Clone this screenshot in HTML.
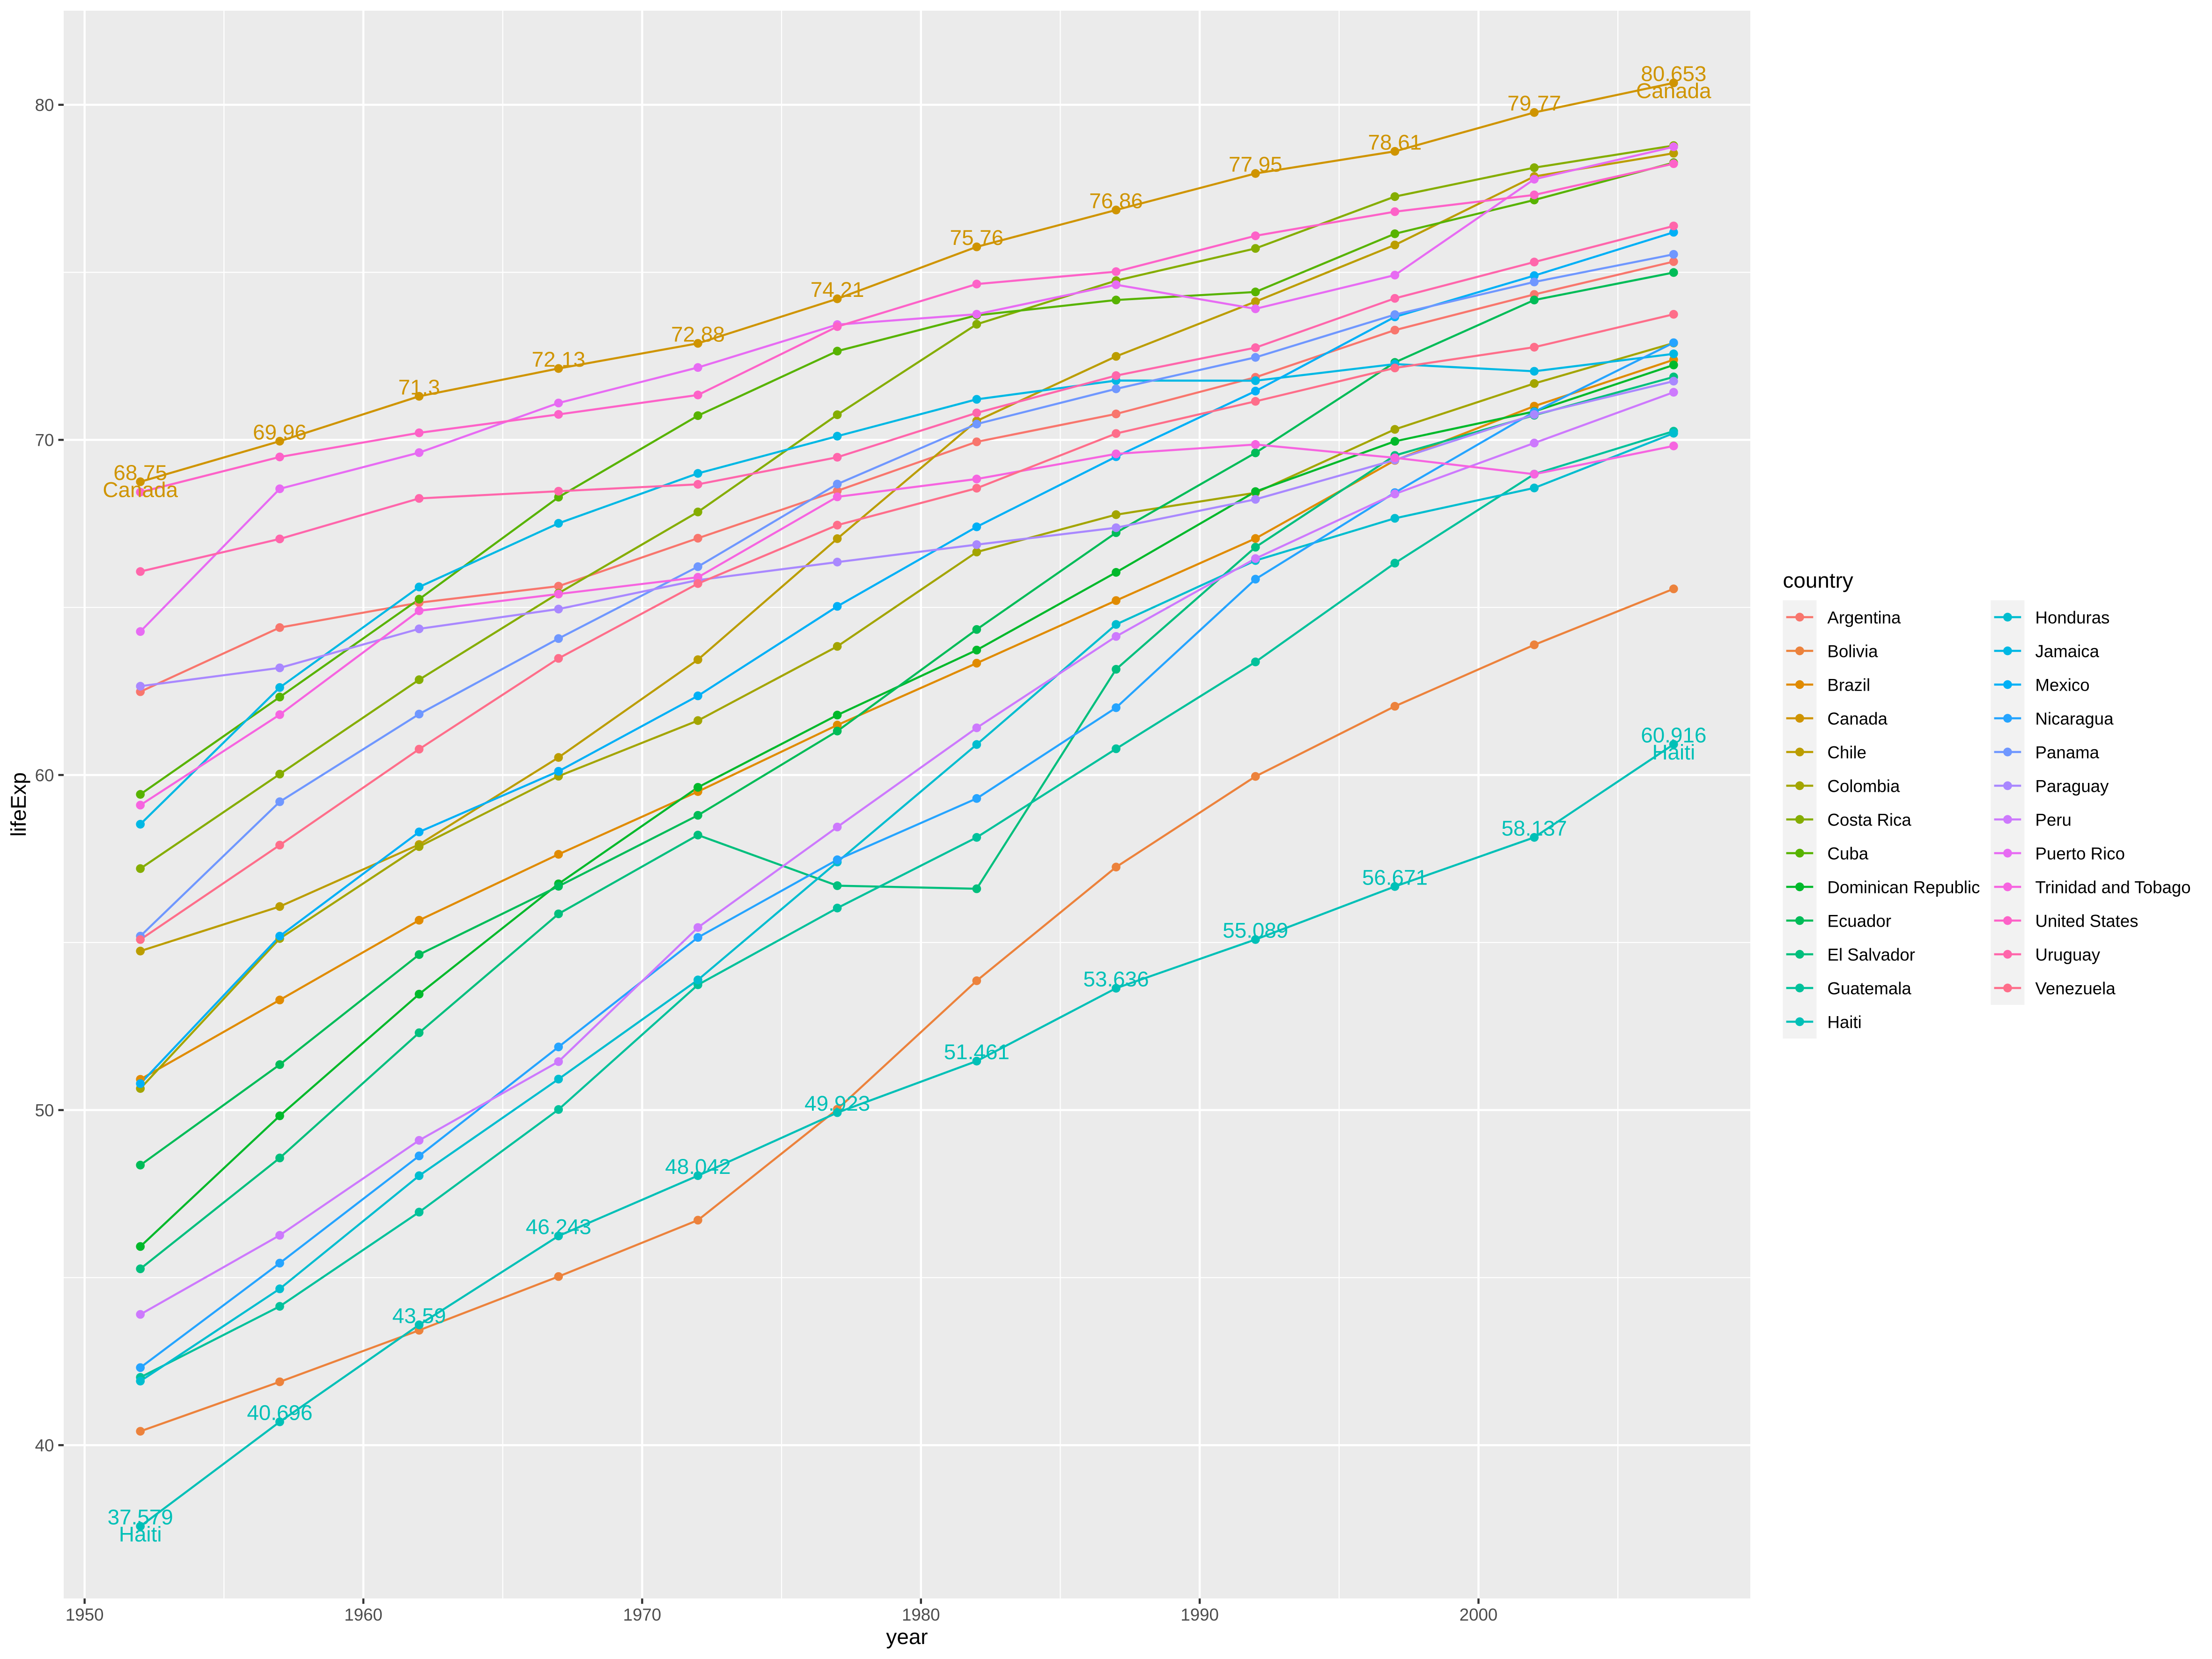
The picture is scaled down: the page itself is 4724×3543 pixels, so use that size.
<!DOCTYPE html>
<html><head><meta charset="utf-8"><style>
html,body{margin:0;padding:0;background:#fff;}
svg{display:block;}
text{font-family:"Liberation Sans",Arial,sans-serif;}
.ln polyline{fill:none;stroke-width:4.44;stroke-linejoin:round;vector-effect:non-scaling-stroke;}
</style></head><body>
<svg xmlns="http://www.w3.org/2000/svg" xmlns:xlink="http://www.w3.org/1999/xlink" width="4724" height="3543" viewBox="0 0 4724 3543">
<defs><ellipse id="p" cx="0" cy="0" rx="0.15705" ry="0.13065"/></defs>
<rect x="0" y="0" width="4724" height="3543" fill="#fff"/>
<rect x="136" y="22.9" width="3602" height="3390.8" fill="#EBEBEB"/>
<g stroke="#fff" stroke-width="2.22">
<line x1="478.3" y1="22.9" x2="478.3" y2="3413.7"/><line x1="1073.7" y1="22.9" x2="1073.7" y2="3413.7"/><line x1="1669.1" y1="22.9" x2="1669.1" y2="3413.7"/><line x1="2264.4" y1="22.9" x2="2264.4" y2="3413.7"/><line x1="2859.8" y1="22.9" x2="2859.8" y2="3413.7"/><line x1="3455.2" y1="22.9" x2="3455.2" y2="3413.7"/>
<line x1="136" y1="581.6" x2="3738" y2="581.6"/><line x1="136" y1="1297.2" x2="3738" y2="1297.2"/><line x1="136" y1="2012.9" x2="3738" y2="2012.9"/><line x1="136" y1="2728.5" x2="3738" y2="2728.5"/>
</g>
<g stroke="#fff" stroke-width="4.44">
<line x1="180.7" y1="22.9" x2="180.7" y2="3413.7"/><line x1="776" y1="22.9" x2="776" y2="3413.7"/><line x1="1371.4" y1="22.9" x2="1371.4" y2="3413.7"/><line x1="1966.8" y1="22.9" x2="1966.8" y2="3413.7"/><line x1="2562.1" y1="22.9" x2="2562.1" y2="3413.7"/><line x1="3157.5" y1="22.9" x2="3157.5" y2="3413.7"/>
<line x1="136" y1="223.8" x2="3738" y2="223.8"/><line x1="136" y1="939.4" x2="3738" y2="939.4"/><line x1="136" y1="1655.1" x2="3738" y2="1655.1"/><line x1="136" y1="2370.7" x2="3738" y2="2370.7"/><line x1="136" y1="3086.3" x2="3738" y2="3086.3"/>
</g>
<g transform="translate(136 22.9) scale(59.537 -71.563) translate(-1949.25 -82.807)">
<g class="ln">
<polyline stroke="#F8766D" points="1952,62.485 1957,64.399 1962,65.142 1967,65.634 1972,67.065 1977,68.481 1982,69.942 1987,70.774 1992,71.868 1997,73.275 2002,74.34 2007,75.32"/>
<polyline stroke="#EC823C" points="1952,40.414 1957,41.89 1962,43.428 1967,45.032 1972,46.714 1977,50.023 1982,53.859 1987,57.251 1992,59.957 1997,62.05 2002,63.883 2007,65.554"/>
<polyline stroke="#E08B00" points="1952,50.917 1957,53.285 1962,55.665 1967,57.632 1972,59.504 1977,61.489 1982,63.336 1987,65.205 1992,67.057 1997,69.388 2002,71.006 2007,72.39"/>
<polyline stroke="#CF9400" points="1952,68.75 1957,69.96 1962,71.3 1967,72.13 1972,72.88 1977,74.21 1982,75.76 1987,76.86 1992,77.95 1997,78.61 2002,79.77 2007,80.653"/>
<polyline stroke="#BB9D00" points="1952,54.745 1957,56.074 1962,57.924 1967,60.523 1972,63.441 1977,67.052 1982,70.565 1987,72.492 1992,74.126 1997,75.816 2002,77.86 2007,78.553"/>
<polyline stroke="#A3A500" points="1952,50.643 1957,55.118 1962,57.863 1967,59.963 1972,61.623 1977,63.837 1982,66.653 1987,67.768 1992,68.421 1997,70.313 2002,71.682 2007,72.889"/>
<polyline stroke="#85AD00" points="1952,57.206 1957,60.026 1962,62.842 1967,65.424 1972,67.849 1977,70.75 1982,73.45 1987,74.752 1992,75.713 1997,77.26 2002,78.123 2007,78.782"/>
<polyline stroke="#57B300" points="1952,59.421 1957,62.325 1962,65.246 1967,68.29 1972,70.723 1977,72.649 1982,73.717 1987,74.174 1992,74.414 1997,76.151 2002,77.158 2007,78.273"/>
<polyline stroke="#00B92B" points="1952,45.928 1957,49.828 1962,53.459 1967,56.751 1972,59.631 1977,61.788 1982,63.727 1987,66.046 1992,68.457 1997,69.957 2002,70.847 2007,72.235"/>
<polyline stroke="#00BC58" points="1952,48.357 1957,51.356 1962,54.64 1967,56.678 1972,58.796 1977,61.31 1982,64.342 1987,67.231 1992,69.613 1997,72.312 2002,74.173 2007,74.994"/>
<polyline stroke="#00BF7D" points="1952,45.262 1957,48.57 1962,52.307 1967,55.855 1972,58.207 1977,56.696 1982,56.604 1987,63.154 1992,66.798 1997,69.535 2002,70.734 2007,71.878"/>
<polyline stroke="#00C19B" points="1952,42.023 1957,44.142 1962,46.954 1967,50.016 1972,53.738 1977,56.029 1982,58.137 1987,60.782 1992,63.373 1997,66.322 2002,68.978 2007,70.259"/>
<polyline stroke="#00C0B7" points="1952,37.579 1957,40.696 1962,43.59 1967,46.243 1972,48.042 1977,49.923 1982,51.461 1987,53.636 1992,55.089 1997,56.671 2002,58.137 2007,60.916"/>
<polyline stroke="#00BDCF" points="1952,41.912 1957,44.665 1962,48.041 1967,50.924 1972,53.884 1977,57.402 1982,60.909 1987,64.492 1992,66.399 1997,67.659 2002,68.565 2007,70.198"/>
<polyline stroke="#00B8E4" points="1952,58.53 1957,62.61 1962,65.61 1967,67.51 1972,69 1977,70.11 1982,71.21 1987,71.77 1992,71.766 1997,72.262 2002,72.047 2007,72.567"/>
<polyline stroke="#00B0F6" points="1952,50.789 1957,55.19 1962,58.299 1967,60.11 1972,62.361 1977,65.032 1982,67.405 1987,69.498 1992,71.455 1997,73.67 2002,74.902 2007,76.195"/>
<polyline stroke="#25A4FF" points="1952,42.314 1957,45.432 1962,48.632 1967,51.884 1972,55.151 1977,57.47 1982,59.298 1987,62.008 1992,65.843 1997,68.426 2002,70.836 2007,72.899"/>
<polyline stroke="#6F97FF" points="1952,55.191 1957,59.201 1962,61.817 1967,64.071 1972,66.216 1977,68.681 1982,70.472 1987,71.523 1992,72.462 1997,73.738 2002,74.712 2007,75.537"/>
<polyline stroke="#A988FF" points="1952,62.649 1957,63.196 1962,64.361 1967,64.951 1972,65.815 1977,66.353 1982,66.874 1987,67.378 1992,68.225 1997,69.4 2002,70.755 2007,71.752"/>
<polyline stroke="#CD79FD" points="1952,43.902 1957,46.263 1962,49.096 1967,51.445 1972,55.448 1977,58.447 1982,61.406 1987,64.134 1992,66.458 1997,68.386 2002,69.906 2007,71.421"/>
<polyline stroke="#E76BF3" points="1952,64.28 1957,68.54 1962,69.62 1967,71.1 1972,72.16 1977,73.44 1982,73.75 1987,74.63 1992,73.911 1997,74.917 2002,77.778 2007,78.746"/>
<polyline stroke="#F664E0" points="1952,59.1 1957,61.8 1962,64.9 1967,65.4 1972,65.9 1977,68.3 1982,68.832 1987,69.582 1992,69.862 1997,69.465 2002,68.976 2007,69.819"/>
<polyline stroke="#FD62C8" points="1952,68.44 1957,69.49 1962,70.21 1967,70.76 1972,71.34 1977,73.38 1982,74.65 1987,75.02 1992,76.09 1997,76.81 2002,77.31 2007,78.242"/>
<polyline stroke="#FF66AB" points="1952,66.071 1957,67.044 1962,68.253 1967,68.468 1972,68.673 1977,69.481 1982,70.805 1987,71.918 1992,72.752 1997,74.223 2002,75.307 2007,76.384"/>
<polyline stroke="#FE6E8A" points="1952,55.088 1957,57.907 1962,60.77 1967,63.479 1972,65.712 1977,67.456 1982,68.557 1987,70.19 1992,71.15 1997,72.146 2002,72.766 2007,73.747"/>
</g>
<g fill="#F8766D"><use xlink:href="#p" x="1952" y="62.485"/><use xlink:href="#p" x="1957" y="64.399"/><use xlink:href="#p" x="1962" y="65.142"/><use xlink:href="#p" x="1967" y="65.634"/><use xlink:href="#p" x="1972" y="67.065"/><use xlink:href="#p" x="1977" y="68.481"/><use xlink:href="#p" x="1982" y="69.942"/><use xlink:href="#p" x="1987" y="70.774"/><use xlink:href="#p" x="1992" y="71.868"/><use xlink:href="#p" x="1997" y="73.275"/><use xlink:href="#p" x="2002" y="74.34"/><use xlink:href="#p" x="2007" y="75.32"/></g>
<g fill="#EC823C"><use xlink:href="#p" x="1952" y="40.414"/><use xlink:href="#p" x="1957" y="41.89"/><use xlink:href="#p" x="1962" y="43.428"/><use xlink:href="#p" x="1967" y="45.032"/><use xlink:href="#p" x="1972" y="46.714"/><use xlink:href="#p" x="1977" y="50.023"/><use xlink:href="#p" x="1982" y="53.859"/><use xlink:href="#p" x="1987" y="57.251"/><use xlink:href="#p" x="1992" y="59.957"/><use xlink:href="#p" x="1997" y="62.05"/><use xlink:href="#p" x="2002" y="63.883"/><use xlink:href="#p" x="2007" y="65.554"/></g>
<g fill="#E08B00"><use xlink:href="#p" x="1952" y="50.917"/><use xlink:href="#p" x="1957" y="53.285"/><use xlink:href="#p" x="1962" y="55.665"/><use xlink:href="#p" x="1967" y="57.632"/><use xlink:href="#p" x="1972" y="59.504"/><use xlink:href="#p" x="1977" y="61.489"/><use xlink:href="#p" x="1982" y="63.336"/><use xlink:href="#p" x="1987" y="65.205"/><use xlink:href="#p" x="1992" y="67.057"/><use xlink:href="#p" x="1997" y="69.388"/><use xlink:href="#p" x="2002" y="71.006"/><use xlink:href="#p" x="2007" y="72.39"/></g>
<g fill="#CF9400"><use xlink:href="#p" x="1952" y="68.75"/><use xlink:href="#p" x="1957" y="69.96"/><use xlink:href="#p" x="1962" y="71.3"/><use xlink:href="#p" x="1967" y="72.13"/><use xlink:href="#p" x="1972" y="72.88"/><use xlink:href="#p" x="1977" y="74.21"/><use xlink:href="#p" x="1982" y="75.76"/><use xlink:href="#p" x="1987" y="76.86"/><use xlink:href="#p" x="1992" y="77.95"/><use xlink:href="#p" x="1997" y="78.61"/><use xlink:href="#p" x="2002" y="79.77"/><use xlink:href="#p" x="2007" y="80.653"/></g>
<g fill="#BB9D00"><use xlink:href="#p" x="1952" y="54.745"/><use xlink:href="#p" x="1957" y="56.074"/><use xlink:href="#p" x="1962" y="57.924"/><use xlink:href="#p" x="1967" y="60.523"/><use xlink:href="#p" x="1972" y="63.441"/><use xlink:href="#p" x="1977" y="67.052"/><use xlink:href="#p" x="1982" y="70.565"/><use xlink:href="#p" x="1987" y="72.492"/><use xlink:href="#p" x="1992" y="74.126"/><use xlink:href="#p" x="1997" y="75.816"/><use xlink:href="#p" x="2002" y="77.86"/><use xlink:href="#p" x="2007" y="78.553"/></g>
<g fill="#A3A500"><use xlink:href="#p" x="1952" y="50.643"/><use xlink:href="#p" x="1957" y="55.118"/><use xlink:href="#p" x="1962" y="57.863"/><use xlink:href="#p" x="1967" y="59.963"/><use xlink:href="#p" x="1972" y="61.623"/><use xlink:href="#p" x="1977" y="63.837"/><use xlink:href="#p" x="1982" y="66.653"/><use xlink:href="#p" x="1987" y="67.768"/><use xlink:href="#p" x="1992" y="68.421"/><use xlink:href="#p" x="1997" y="70.313"/><use xlink:href="#p" x="2002" y="71.682"/><use xlink:href="#p" x="2007" y="72.889"/></g>
<g fill="#85AD00"><use xlink:href="#p" x="1952" y="57.206"/><use xlink:href="#p" x="1957" y="60.026"/><use xlink:href="#p" x="1962" y="62.842"/><use xlink:href="#p" x="1967" y="65.424"/><use xlink:href="#p" x="1972" y="67.849"/><use xlink:href="#p" x="1977" y="70.75"/><use xlink:href="#p" x="1982" y="73.45"/><use xlink:href="#p" x="1987" y="74.752"/><use xlink:href="#p" x="1992" y="75.713"/><use xlink:href="#p" x="1997" y="77.26"/><use xlink:href="#p" x="2002" y="78.123"/><use xlink:href="#p" x="2007" y="78.782"/></g>
<g fill="#57B300"><use xlink:href="#p" x="1952" y="59.421"/><use xlink:href="#p" x="1957" y="62.325"/><use xlink:href="#p" x="1962" y="65.246"/><use xlink:href="#p" x="1967" y="68.29"/><use xlink:href="#p" x="1972" y="70.723"/><use xlink:href="#p" x="1977" y="72.649"/><use xlink:href="#p" x="1982" y="73.717"/><use xlink:href="#p" x="1987" y="74.174"/><use xlink:href="#p" x="1992" y="74.414"/><use xlink:href="#p" x="1997" y="76.151"/><use xlink:href="#p" x="2002" y="77.158"/><use xlink:href="#p" x="2007" y="78.273"/></g>
<g fill="#00B92B"><use xlink:href="#p" x="1952" y="45.928"/><use xlink:href="#p" x="1957" y="49.828"/><use xlink:href="#p" x="1962" y="53.459"/><use xlink:href="#p" x="1967" y="56.751"/><use xlink:href="#p" x="1972" y="59.631"/><use xlink:href="#p" x="1977" y="61.788"/><use xlink:href="#p" x="1982" y="63.727"/><use xlink:href="#p" x="1987" y="66.046"/><use xlink:href="#p" x="1992" y="68.457"/><use xlink:href="#p" x="1997" y="69.957"/><use xlink:href="#p" x="2002" y="70.847"/><use xlink:href="#p" x="2007" y="72.235"/></g>
<g fill="#00BC58"><use xlink:href="#p" x="1952" y="48.357"/><use xlink:href="#p" x="1957" y="51.356"/><use xlink:href="#p" x="1962" y="54.64"/><use xlink:href="#p" x="1967" y="56.678"/><use xlink:href="#p" x="1972" y="58.796"/><use xlink:href="#p" x="1977" y="61.31"/><use xlink:href="#p" x="1982" y="64.342"/><use xlink:href="#p" x="1987" y="67.231"/><use xlink:href="#p" x="1992" y="69.613"/><use xlink:href="#p" x="1997" y="72.312"/><use xlink:href="#p" x="2002" y="74.173"/><use xlink:href="#p" x="2007" y="74.994"/></g>
<g fill="#00BF7D"><use xlink:href="#p" x="1952" y="45.262"/><use xlink:href="#p" x="1957" y="48.57"/><use xlink:href="#p" x="1962" y="52.307"/><use xlink:href="#p" x="1967" y="55.855"/><use xlink:href="#p" x="1972" y="58.207"/><use xlink:href="#p" x="1977" y="56.696"/><use xlink:href="#p" x="1982" y="56.604"/><use xlink:href="#p" x="1987" y="63.154"/><use xlink:href="#p" x="1992" y="66.798"/><use xlink:href="#p" x="1997" y="69.535"/><use xlink:href="#p" x="2002" y="70.734"/><use xlink:href="#p" x="2007" y="71.878"/></g>
<g fill="#00C19B"><use xlink:href="#p" x="1952" y="42.023"/><use xlink:href="#p" x="1957" y="44.142"/><use xlink:href="#p" x="1962" y="46.954"/><use xlink:href="#p" x="1967" y="50.016"/><use xlink:href="#p" x="1972" y="53.738"/><use xlink:href="#p" x="1977" y="56.029"/><use xlink:href="#p" x="1982" y="58.137"/><use xlink:href="#p" x="1987" y="60.782"/><use xlink:href="#p" x="1992" y="63.373"/><use xlink:href="#p" x="1997" y="66.322"/><use xlink:href="#p" x="2002" y="68.978"/><use xlink:href="#p" x="2007" y="70.259"/></g>
<g fill="#00C0B7"><use xlink:href="#p" x="1952" y="37.579"/><use xlink:href="#p" x="1957" y="40.696"/><use xlink:href="#p" x="1962" y="43.59"/><use xlink:href="#p" x="1967" y="46.243"/><use xlink:href="#p" x="1972" y="48.042"/><use xlink:href="#p" x="1977" y="49.923"/><use xlink:href="#p" x="1982" y="51.461"/><use xlink:href="#p" x="1987" y="53.636"/><use xlink:href="#p" x="1992" y="55.089"/><use xlink:href="#p" x="1997" y="56.671"/><use xlink:href="#p" x="2002" y="58.137"/><use xlink:href="#p" x="2007" y="60.916"/></g>
<g fill="#00BDCF"><use xlink:href="#p" x="1952" y="41.912"/><use xlink:href="#p" x="1957" y="44.665"/><use xlink:href="#p" x="1962" y="48.041"/><use xlink:href="#p" x="1967" y="50.924"/><use xlink:href="#p" x="1972" y="53.884"/><use xlink:href="#p" x="1977" y="57.402"/><use xlink:href="#p" x="1982" y="60.909"/><use xlink:href="#p" x="1987" y="64.492"/><use xlink:href="#p" x="1992" y="66.399"/><use xlink:href="#p" x="1997" y="67.659"/><use xlink:href="#p" x="2002" y="68.565"/><use xlink:href="#p" x="2007" y="70.198"/></g>
<g fill="#00B8E4"><use xlink:href="#p" x="1952" y="58.53"/><use xlink:href="#p" x="1957" y="62.61"/><use xlink:href="#p" x="1962" y="65.61"/><use xlink:href="#p" x="1967" y="67.51"/><use xlink:href="#p" x="1972" y="69"/><use xlink:href="#p" x="1977" y="70.11"/><use xlink:href="#p" x="1982" y="71.21"/><use xlink:href="#p" x="1987" y="71.77"/><use xlink:href="#p" x="1992" y="71.766"/><use xlink:href="#p" x="1997" y="72.262"/><use xlink:href="#p" x="2002" y="72.047"/><use xlink:href="#p" x="2007" y="72.567"/></g>
<g fill="#00B0F6"><use xlink:href="#p" x="1952" y="50.789"/><use xlink:href="#p" x="1957" y="55.19"/><use xlink:href="#p" x="1962" y="58.299"/><use xlink:href="#p" x="1967" y="60.11"/><use xlink:href="#p" x="1972" y="62.361"/><use xlink:href="#p" x="1977" y="65.032"/><use xlink:href="#p" x="1982" y="67.405"/><use xlink:href="#p" x="1987" y="69.498"/><use xlink:href="#p" x="1992" y="71.455"/><use xlink:href="#p" x="1997" y="73.67"/><use xlink:href="#p" x="2002" y="74.902"/><use xlink:href="#p" x="2007" y="76.195"/></g>
<g fill="#25A4FF"><use xlink:href="#p" x="1952" y="42.314"/><use xlink:href="#p" x="1957" y="45.432"/><use xlink:href="#p" x="1962" y="48.632"/><use xlink:href="#p" x="1967" y="51.884"/><use xlink:href="#p" x="1972" y="55.151"/><use xlink:href="#p" x="1977" y="57.47"/><use xlink:href="#p" x="1982" y="59.298"/><use xlink:href="#p" x="1987" y="62.008"/><use xlink:href="#p" x="1992" y="65.843"/><use xlink:href="#p" x="1997" y="68.426"/><use xlink:href="#p" x="2002" y="70.836"/><use xlink:href="#p" x="2007" y="72.899"/></g>
<g fill="#6F97FF"><use xlink:href="#p" x="1952" y="55.191"/><use xlink:href="#p" x="1957" y="59.201"/><use xlink:href="#p" x="1962" y="61.817"/><use xlink:href="#p" x="1967" y="64.071"/><use xlink:href="#p" x="1972" y="66.216"/><use xlink:href="#p" x="1977" y="68.681"/><use xlink:href="#p" x="1982" y="70.472"/><use xlink:href="#p" x="1987" y="71.523"/><use xlink:href="#p" x="1992" y="72.462"/><use xlink:href="#p" x="1997" y="73.738"/><use xlink:href="#p" x="2002" y="74.712"/><use xlink:href="#p" x="2007" y="75.537"/></g>
<g fill="#A988FF"><use xlink:href="#p" x="1952" y="62.649"/><use xlink:href="#p" x="1957" y="63.196"/><use xlink:href="#p" x="1962" y="64.361"/><use xlink:href="#p" x="1967" y="64.951"/><use xlink:href="#p" x="1972" y="65.815"/><use xlink:href="#p" x="1977" y="66.353"/><use xlink:href="#p" x="1982" y="66.874"/><use xlink:href="#p" x="1987" y="67.378"/><use xlink:href="#p" x="1992" y="68.225"/><use xlink:href="#p" x="1997" y="69.4"/><use xlink:href="#p" x="2002" y="70.755"/><use xlink:href="#p" x="2007" y="71.752"/></g>
<g fill="#CD79FD"><use xlink:href="#p" x="1952" y="43.902"/><use xlink:href="#p" x="1957" y="46.263"/><use xlink:href="#p" x="1962" y="49.096"/><use xlink:href="#p" x="1967" y="51.445"/><use xlink:href="#p" x="1972" y="55.448"/><use xlink:href="#p" x="1977" y="58.447"/><use xlink:href="#p" x="1982" y="61.406"/><use xlink:href="#p" x="1987" y="64.134"/><use xlink:href="#p" x="1992" y="66.458"/><use xlink:href="#p" x="1997" y="68.386"/><use xlink:href="#p" x="2002" y="69.906"/><use xlink:href="#p" x="2007" y="71.421"/></g>
<g fill="#E76BF3"><use xlink:href="#p" x="1952" y="64.28"/><use xlink:href="#p" x="1957" y="68.54"/><use xlink:href="#p" x="1962" y="69.62"/><use xlink:href="#p" x="1967" y="71.1"/><use xlink:href="#p" x="1972" y="72.16"/><use xlink:href="#p" x="1977" y="73.44"/><use xlink:href="#p" x="1982" y="73.75"/><use xlink:href="#p" x="1987" y="74.63"/><use xlink:href="#p" x="1992" y="73.911"/><use xlink:href="#p" x="1997" y="74.917"/><use xlink:href="#p" x="2002" y="77.778"/><use xlink:href="#p" x="2007" y="78.746"/></g>
<g fill="#F664E0"><use xlink:href="#p" x="1952" y="59.1"/><use xlink:href="#p" x="1957" y="61.8"/><use xlink:href="#p" x="1962" y="64.9"/><use xlink:href="#p" x="1967" y="65.4"/><use xlink:href="#p" x="1972" y="65.9"/><use xlink:href="#p" x="1977" y="68.3"/><use xlink:href="#p" x="1982" y="68.832"/><use xlink:href="#p" x="1987" y="69.582"/><use xlink:href="#p" x="1992" y="69.862"/><use xlink:href="#p" x="1997" y="69.465"/><use xlink:href="#p" x="2002" y="68.976"/><use xlink:href="#p" x="2007" y="69.819"/></g>
<g fill="#FD62C8"><use xlink:href="#p" x="1952" y="68.44"/><use xlink:href="#p" x="1957" y="69.49"/><use xlink:href="#p" x="1962" y="70.21"/><use xlink:href="#p" x="1967" y="70.76"/><use xlink:href="#p" x="1972" y="71.34"/><use xlink:href="#p" x="1977" y="73.38"/><use xlink:href="#p" x="1982" y="74.65"/><use xlink:href="#p" x="1987" y="75.02"/><use xlink:href="#p" x="1992" y="76.09"/><use xlink:href="#p" x="1997" y="76.81"/><use xlink:href="#p" x="2002" y="77.31"/><use xlink:href="#p" x="2007" y="78.242"/></g>
<g fill="#FF66AB"><use xlink:href="#p" x="1952" y="66.071"/><use xlink:href="#p" x="1957" y="67.044"/><use xlink:href="#p" x="1962" y="68.253"/><use xlink:href="#p" x="1967" y="68.468"/><use xlink:href="#p" x="1972" y="68.673"/><use xlink:href="#p" x="1977" y="69.481"/><use xlink:href="#p" x="1982" y="70.805"/><use xlink:href="#p" x="1987" y="71.918"/><use xlink:href="#p" x="1992" y="72.752"/><use xlink:href="#p" x="1997" y="74.223"/><use xlink:href="#p" x="2002" y="75.307"/><use xlink:href="#p" x="2007" y="76.384"/></g>
<g fill="#FE6E8A"><use xlink:href="#p" x="1952" y="55.088"/><use xlink:href="#p" x="1957" y="57.907"/><use xlink:href="#p" x="1962" y="60.77"/><use xlink:href="#p" x="1967" y="63.479"/><use xlink:href="#p" x="1972" y="65.712"/><use xlink:href="#p" x="1977" y="67.456"/><use xlink:href="#p" x="1982" y="68.557"/><use xlink:href="#p" x="1987" y="70.19"/><use xlink:href="#p" x="1992" y="71.15"/><use xlink:href="#p" x="1997" y="72.146"/><use xlink:href="#p" x="2002" y="72.766"/><use xlink:href="#p" x="2007" y="73.747"/></g>
</g>
<g font-size="45.83" text-anchor="middle" fill="#CF9400">
<text x="299.7" y="1024.9">68.75</text><text x="597.4" y="938.3">69.96</text><text x="895.1" y="842.4">71.3</text><text x="1192.8" y="783">72.13</text><text x="1490.5" y="729.3">72.88</text><text x="1788.2" y="634.1">74.21</text><text x="2085.8" y="523.2">75.76</text><text x="2383.5" y="444.5">76.86</text><text x="2681.2" y="366.5">77.95</text><text x="2978.9" y="319.3">78.61</text><text x="3276.6" y="236.2">79.77</text><text x="3574.3" y="173.1">80.653</text>
<text x="299.7" y="1061.4">Canada</text><text x="3574.3" y="209.6">Canada</text>
</g>
<g font-size="45.83" text-anchor="middle" fill="#00C0B7">
<text x="299.7" y="3255.6">37.579</text><text x="597.4" y="3032.5">40.696</text><text x="895.1" y="2825.4">43.59</text><text x="1192.8" y="2635.5">46.243</text><text x="1490.5" y="2506.8">48.042</text><text x="1788.2" y="2372.2">49.923</text><text x="2085.8" y="2262.1">51.461</text><text x="2383.5" y="2106.5">53.636</text><text x="2681.2" y="2002.5">55.089</text><text x="2978.9" y="1889.3">56.671</text><text x="3276.6" y="1784.4">58.137</text><text x="3574.3" y="1585.5">60.916</text>
<text x="299.7" y="3292.1">Haiti</text><text x="3574.3" y="1622">Haiti</text>
</g>
<g stroke="#333333" stroke-width="4.44">
<line x1="180.7" y1="3413.7" x2="180.7" y2="3425.2"/><line x1="776" y1="3413.7" x2="776" y2="3425.2"/><line x1="1371.4" y1="3413.7" x2="1371.4" y2="3425.2"/><line x1="1966.8" y1="3413.7" x2="1966.8" y2="3425.2"/><line x1="2562.1" y1="3413.7" x2="2562.1" y2="3425.2"/><line x1="3157.5" y1="3413.7" x2="3157.5" y2="3425.2"/>
<line x1="124.5" y1="223.8" x2="136" y2="223.8"/><line x1="124.5" y1="939.4" x2="136" y2="939.4"/><line x1="124.5" y1="1655.1" x2="136" y2="1655.1"/><line x1="124.5" y1="2370.7" x2="136" y2="2370.7"/><line x1="124.5" y1="3086.3" x2="136" y2="3086.3"/>
</g>
<g font-size="36.67" fill="#4D4D4D" text-anchor="middle">
<text x="180.7" y="3461">1950</text><text x="776" y="3461">1960</text><text x="1371.4" y="3461">1970</text><text x="1966.8" y="3461">1980</text><text x="2562.1" y="3461">1990</text><text x="3157.5" y="3461">2000</text>
</g>
<g font-size="36.67" fill="#4D4D4D" text-anchor="end">
<text x="115.4" y="237.1">80</text><text x="115.4" y="952.7">70</text><text x="115.4" y="1668.4">60</text><text x="115.4" y="2384">50</text><text x="115.4" y="3099.6">40</text>
</g>
<text x="1937" y="3511" font-size="45.83" text-anchor="middle" fill="#000">year</text>
<text transform="translate(55 1718) rotate(-90)" x="0" y="0" font-size="45.83" text-anchor="middle" fill="#000">lifeExp</text>
<text x="3807.5" y="1255" font-size="45.83" fill="#000">country</text>
<rect x="3807.5" y="1282" width="72" height="936" fill="#F2F2F2"/>
<rect x="4251.5" y="1282" width="72" height="864" fill="#F2F2F2"/>
<g stroke-width="4.44">
<line x1="3814.7" x2="3872.3" y1="1318" y2="1318" stroke="#F8766D"/><circle cx="3843.5" cy="1318" r="9.35" fill="#F8766D"/>
<line x1="3814.7" x2="3872.3" y1="1390" y2="1390" stroke="#EC823C"/><circle cx="3843.5" cy="1390" r="9.35" fill="#EC823C"/>
<line x1="3814.7" x2="3872.3" y1="1462" y2="1462" stroke="#E08B00"/><circle cx="3843.5" cy="1462" r="9.35" fill="#E08B00"/>
<line x1="3814.7" x2="3872.3" y1="1534" y2="1534" stroke="#CF9400"/><circle cx="3843.5" cy="1534" r="9.35" fill="#CF9400"/>
<line x1="3814.7" x2="3872.3" y1="1606" y2="1606" stroke="#BB9D00"/><circle cx="3843.5" cy="1606" r="9.35" fill="#BB9D00"/>
<line x1="3814.7" x2="3872.3" y1="1678" y2="1678" stroke="#A3A500"/><circle cx="3843.5" cy="1678" r="9.35" fill="#A3A500"/>
<line x1="3814.7" x2="3872.3" y1="1750" y2="1750" stroke="#85AD00"/><circle cx="3843.5" cy="1750" r="9.35" fill="#85AD00"/>
<line x1="3814.7" x2="3872.3" y1="1822" y2="1822" stroke="#57B300"/><circle cx="3843.5" cy="1822" r="9.35" fill="#57B300"/>
<line x1="3814.7" x2="3872.3" y1="1894" y2="1894" stroke="#00B92B"/><circle cx="3843.5" cy="1894" r="9.35" fill="#00B92B"/>
<line x1="3814.7" x2="3872.3" y1="1966" y2="1966" stroke="#00BC58"/><circle cx="3843.5" cy="1966" r="9.35" fill="#00BC58"/>
<line x1="3814.7" x2="3872.3" y1="2038" y2="2038" stroke="#00BF7D"/><circle cx="3843.5" cy="2038" r="9.35" fill="#00BF7D"/>
<line x1="3814.7" x2="3872.3" y1="2110" y2="2110" stroke="#00C19B"/><circle cx="3843.5" cy="2110" r="9.35" fill="#00C19B"/>
<line x1="3814.7" x2="3872.3" y1="2182" y2="2182" stroke="#00C0B7"/><circle cx="3843.5" cy="2182" r="9.35" fill="#00C0B7"/>
<line x1="4258.7" x2="4316.3" y1="1318" y2="1318" stroke="#00BDCF"/><circle cx="4287.5" cy="1318" r="9.35" fill="#00BDCF"/>
<line x1="4258.7" x2="4316.3" y1="1390" y2="1390" stroke="#00B8E4"/><circle cx="4287.5" cy="1390" r="9.35" fill="#00B8E4"/>
<line x1="4258.7" x2="4316.3" y1="1462" y2="1462" stroke="#00B0F6"/><circle cx="4287.5" cy="1462" r="9.35" fill="#00B0F6"/>
<line x1="4258.7" x2="4316.3" y1="1534" y2="1534" stroke="#25A4FF"/><circle cx="4287.5" cy="1534" r="9.35" fill="#25A4FF"/>
<line x1="4258.7" x2="4316.3" y1="1606" y2="1606" stroke="#6F97FF"/><circle cx="4287.5" cy="1606" r="9.35" fill="#6F97FF"/>
<line x1="4258.7" x2="4316.3" y1="1678" y2="1678" stroke="#A988FF"/><circle cx="4287.5" cy="1678" r="9.35" fill="#A988FF"/>
<line x1="4258.7" x2="4316.3" y1="1750" y2="1750" stroke="#CD79FD"/><circle cx="4287.5" cy="1750" r="9.35" fill="#CD79FD"/>
<line x1="4258.7" x2="4316.3" y1="1822" y2="1822" stroke="#E76BF3"/><circle cx="4287.5" cy="1822" r="9.35" fill="#E76BF3"/>
<line x1="4258.7" x2="4316.3" y1="1894" y2="1894" stroke="#F664E0"/><circle cx="4287.5" cy="1894" r="9.35" fill="#F664E0"/>
<line x1="4258.7" x2="4316.3" y1="1966" y2="1966" stroke="#FD62C8"/><circle cx="4287.5" cy="1966" r="9.35" fill="#FD62C8"/>
<line x1="4258.7" x2="4316.3" y1="2038" y2="2038" stroke="#FF66AB"/><circle cx="4287.5" cy="2038" r="9.35" fill="#FF66AB"/>
<line x1="4258.7" x2="4316.3" y1="2110" y2="2110" stroke="#FE6E8A"/><circle cx="4287.5" cy="2110" r="9.35" fill="#FE6E8A"/>
</g>
<g font-size="36.67" fill="#000">
<text x="3902.5" y="1331.3">Argentina</text><text x="3902.5" y="1403.3">Bolivia</text><text x="3902.5" y="1475.3">Brazil</text><text x="3902.5" y="1547.3">Canada</text><text x="3902.5" y="1619.3">Chile</text><text x="3902.5" y="1691.3">Colombia</text><text x="3902.5" y="1763.3">Costa Rica</text><text x="3902.5" y="1835.3">Cuba</text><text x="3902.5" y="1907.3">Dominican Republic</text><text x="3902.5" y="1979.3">Ecuador</text><text x="3902.5" y="2051.3">El Salvador</text><text x="3902.5" y="2123.3">Guatemala</text><text x="3902.5" y="2195.3">Haiti</text>
<text x="4346.5" y="1331.3">Honduras</text><text x="4346.5" y="1403.3">Jamaica</text><text x="4346.5" y="1475.3">Mexico</text><text x="4346.5" y="1547.3">Nicaragua</text><text x="4346.5" y="1619.3">Panama</text><text x="4346.5" y="1691.3">Paraguay</text><text x="4346.5" y="1763.3">Peru</text><text x="4346.5" y="1835.3">Puerto Rico</text><text x="4346.5" y="1907.3">Trinidad and Tobago</text><text x="4346.5" y="1979.3">United States</text><text x="4346.5" y="2051.3">Uruguay</text><text x="4346.5" y="2123.3">Venezuela</text>
</g>
</svg>
</body></html>
